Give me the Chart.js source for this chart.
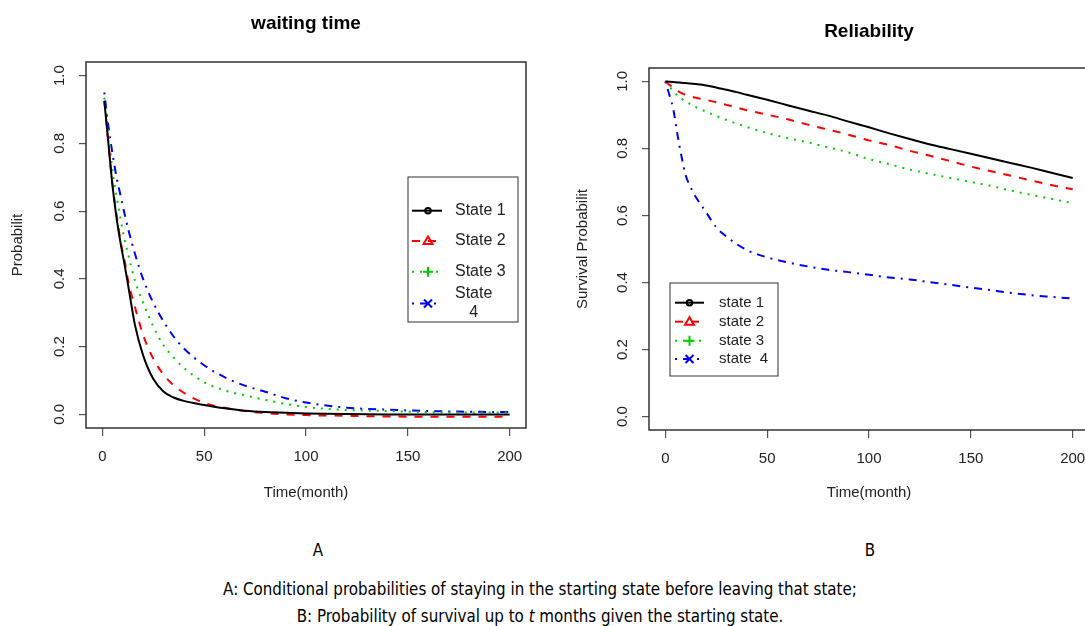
<!DOCTYPE html>
<html lang="en">
<head>
<meta charset="UTF-8">
<title>waiting time / Reliability</title>
<script src="https://cdn.jsdelivr.net/npm/chart.js"></script>
<style>
  html, body { margin: 0; padding: 0; background: #fff; overflow: hidden; }
  body { width: 1085px; height: 626px; position: relative; }
  .box { position: absolute; top: 0; height: 520px; }
  #boxA { left: 0; width: 560px; }
  #boxB { left: 560px; width: 540px; }
  .cap {
    position: absolute; transform: translate(-50%, -50%); white-space: nowrap; color: #000;
    font-family: "Liberation Sans Narrow", "DejaVu Sans Condensed", "Liberation Sans", sans-serif;
    font-size: 16.8px;
  }
</style>
</head>
<body>
<div class="box" id="boxA"><canvas id="waitChart" width="560" height="520"></canvas></div>
<div class="box" id="boxB"><canvas id="survChart" width="540" height="520"></canvas></div>

<div class="cap" style="left:318px; top:550px;">A</div>
<div class="cap" style="left:870px; top:550px;">B</div>
<div class="cap" style="left:540px; top:589px;">A: Conditional probabilities of staying in the starting state before leaving that state;</div>
<div class="cap" style="left:540px; top:616px;">B: Probability of survival up to <i>t</i> months given the starting state.</div>

<script>
// ---- data ----
const xTicks = [0, 50, 100, 150, 200];
const yTicks = [0, 0.2, 0.4, 0.6, 0.8, 1.0];

// A: waiting time
const waitTime = [1, 3, 5, 7, 9, 11, 13, 16, 20, 25, 30, 35, 40, 50, 60, 70, 80, 90, 100, 120, 140, 160, 180, 200];
const waitState1 = [0.925, 0.80, 0.675, 0.58, 0.505, 0.44, 0.37, 0.265, 0.175, 0.105, 0.068, 0.05, 0.04, 0.028, 0.018, 0.011, 0.007, 0.005, 0.003, 0.001, 0.0, 0.0, 0.0, 0.0];
const waitState2 = [0.925, 0.80, 0.68, 0.59, 0.51, 0.452, 0.385, 0.318, 0.235, 0.165, 0.118, 0.086, 0.064, 0.034, 0.02, 0.01, 0.004, 0.0, -0.002, -0.004, -0.006, -0.007, -0.007, -0.007];
const waitState3 = [0.935, 0.83, 0.72, 0.645, 0.575, 0.515, 0.465, 0.395, 0.33, 0.26, 0.205, 0.168, 0.138, 0.095, 0.071, 0.056, 0.043, 0.031, 0.022, 0.013, 0.010, 0.007, 0.006, 0.006];
const waitState4 = [0.95, 0.85, 0.77, 0.70, 0.645, 0.59, 0.54, 0.475, 0.40, 0.33, 0.275, 0.23, 0.195, 0.145, 0.11, 0.085, 0.067, 0.048, 0.035, 0.02, 0.014, 0.01, 0.008, 0.007];
const waitLabels = ['State 1', 'State 2', 'State 3', 'State\n4'];

// B: reliability
const survTime = [0, 2, 4, 6, 8, 10, 12, 15, 20, 25, 30, 35, 40, 50, 60, 70, 80, 90, 100, 110, 120, 130, 140, 150, 160, 170, 180, 190, 200];
const survState1 = [1.0, 0.999, 0.998, 0.997, 0.996, 0.995, 0.994, 0.992, 0.988, 0.982, 0.975, 0.968, 0.96, 0.945, 0.929, 0.913, 0.898, 0.88, 0.863, 0.845, 0.828, 0.812, 0.798, 0.784, 0.77, 0.756, 0.742, 0.727, 0.712];
const survState2 = [1.0, 0.99, 0.98, 0.972, 0.965, 0.96, 0.956, 0.951, 0.945, 0.938, 0.93, 0.922, 0.914, 0.901, 0.887, 0.871, 0.856, 0.841, 0.824, 0.81, 0.793, 0.778, 0.762, 0.746, 0.732, 0.718, 0.704, 0.69, 0.678];
const survState3 = [1.0, 0.985, 0.97, 0.958, 0.948, 0.94, 0.933, 0.923, 0.91, 0.897, 0.885, 0.874, 0.864, 0.846, 0.831, 0.818, 0.803, 0.788, 0.768, 0.753, 0.737, 0.724, 0.712, 0.70, 0.688, 0.674, 0.661, 0.649, 0.637];
const survState4 = [1.0, 0.96, 0.915, 0.84, 0.775, 0.72, 0.69, 0.655, 0.61, 0.565, 0.537, 0.515, 0.497, 0.475, 0.46, 0.448, 0.438, 0.431, 0.423, 0.415, 0.409, 0.401, 0.393, 0.385, 0.377, 0.369, 0.362, 0.357, 0.352];
const survLabels = ['state 1', 'state 2', 'state 3', 'state  4'];

// ---- styles ----
const colors = ['#000000', '#ff0000', '#00cd00', '#0000ff'];
const dashes = [[], [8, 8], [2, 6], [2, 6, 8, 6]];
const markers = ['circle', 'triangle', 'plus', 'cross'];
const FONT = '"Liberation Sans", Arial, sans-serif';

function drawMarker(ctx, kind, x, y, color) {
  ctx.save();
  ctx.strokeStyle = color; ctx.lineWidth = 2; ctx.setLineDash([]);
  ctx.beginPath();
  if (kind === 'circle') {
    ctx.arc(x, y, 2.8, 0, Math.PI * 2);
  } else if (kind === 'triangle') {
    ctx.moveTo(x - 4.5, y + 3); ctx.lineTo(x + 4.5, y + 3); ctx.lineTo(x, y - 4.5); ctx.closePath();
  } else if (kind === 'plus') {
    ctx.moveTo(x - 5, y); ctx.lineTo(x + 5, y); ctx.moveTo(x, y - 5); ctx.lineTo(x, y + 5);
  } else {
    ctx.moveTo(x - 4, y - 4); ctx.lineTo(x + 4, y + 4); ctx.moveTo(x + 4, y - 4); ctx.lineTo(x - 4, y + 4);
  }
  ctx.stroke();
  ctx.restore();
}

// R style box, rotated y labels, bold title and legend
const rFrame = {
  id: 'rFrame',
  afterDraw(chart, args, o) {
    const { ctx, chartArea: a } = chart;
    ctx.save();
    ctx.strokeStyle = '#333'; ctx.lineWidth = 1.5;
    ctx.strokeRect(a.left, a.top, a.right - a.left, a.bottom - a.top);

    const ys = chart.scales.y;
    ctx.fillStyle = '#222'; ctx.font = '15px ' + FONT;
    ctx.textAlign = 'center'; ctx.textBaseline = 'middle';
    ys.ticks.forEach(t => {
      ctx.save();
      ctx.translate(a.left - 26, ys.getPixelForValue(t.value));
      ctx.rotate(-Math.PI / 2);
      ctx.fillText(t.value.toFixed(1), 0, 0);
      ctx.restore();
    });

    ctx.fillStyle = '#000'; ctx.font = 'bold 19px ' + FONT;
    ctx.fillText(o.title, (a.left + a.right) / 2, o.titleY);

    const lg = o.legend;
    ctx.strokeStyle = '#333'; ctx.lineWidth = 1;
    ctx.strokeRect(lg.x, lg.y, lg.w, lg.h);
    ctx.font = lg.size + 'px ' + FONT;
    chart.data.datasets.forEach((ds, i) => {
      const ry = lg.rows[i];
      ctx.strokeStyle = ds.borderColor; ctx.lineWidth = 2;
      ctx.setLineDash(ds.borderDash);
      ctx.beginPath(); ctx.moveTo(lg.lx0, ry); ctx.lineTo(lg.lx1, ry); ctx.stroke();
      ctx.setLineDash([]);
      drawMarker(ctx, markers[i], lg.mx, ry, ds.borderColor);
      ctx.fillStyle = '#222';
      const lines = ds.label.split('\n');
      if (lines.length === 1) {
        ctx.textAlign = 'left';
        ctx.fillText(lines[0], lg.tx, ry);
      } else {
        ctx.textAlign = 'center';
        const cx = lg.tx + ctx.measureText(lines[0]).width / 2;
        lines.forEach((s, k) => ctx.fillText(s, cx, ry + (k - (lines.length - 1) / 2) * 19));
      }
    });
    ctx.restore();
  }
};

function makeChart(id, time, series, labels, o) {
  return new Chart(document.getElementById(id), {
    type: 'line',
    data: {
      datasets: series.map((vals, i) => ({
        label: labels[i],
        data: time.map((t, k) => ({ x: t, y: vals[k] })),
        borderColor: colors[i],
        borderDash: dashes[i],
        borderWidth: 2,
        pointRadius: 0,
        cubicInterpolationMode: 'monotone',
        fill: false
      }))
    },
    options: {
      responsive: false,
      animation: false,
      events: [],
      layout: { padding: o.padding },
      plugins: {
        legend: { display: false },
        tooltip: { enabled: false },
        rFrame: { title: o.title, titleY: o.titleY, legend: o.legend }
      },
      scales: {
        x: {
          type: 'linear', min: -8, max: 208,
          afterBuildTicks: s => { s.ticks = xTicks.map(v => ({ value: v })); },
          afterFit: s => { s.height = 80; },
          border: { display: false },
          grid: { drawOnChartArea: false, drawTicks: true, tickLength: 8, color: '#555', lineWidth: 1.2 },
          ticks: { color: '#222', font: { size: 15, family: FONT }, padding: 12, maxRotation: 0 },
          title: { display: true, text: 'Time(month)', color: '#222', font: { size: 15, family: FONT }, padding: { top: 0, bottom: o.xTitlePad } }
        },
        y: {
          type: 'linear', min: -0.04, max: 1.04,
          afterBuildTicks: s => { s.ticks = yTicks.map(v => ({ value: v })); },
          afterFit: s => { s.width = o.yWidth; },
          border: { display: false },
          grid: { drawOnChartArea: false, drawTicks: true, tickLength: 7, color: '#555', lineWidth: 1.2 },
          ticks: { display: false },
          title: { display: true, text: o.yTitle, color: '#222', font: { size: 15, family: FONT }, padding: { top: o.yTitlePad, bottom: 0 } }
        }
      }
    },
    plugins: [rFrame]
  });
}

makeChart('waitChart', waitTime, [waitState1, waitState2, waitState3, waitState4], waitLabels, {
  padding: { left: 0, top: 62, right: 34, bottom: 12 },
  yWidth: 86, yTitle: 'Probabilit', yTitlePad: 9, xTitlePad: 6,
  title: 'waiting time', titleY: 24,
  legend: { x: 408, y: 177, w: 110, h: 145, rows: [210.7, 241, 271.7, 303.5], lx0: 412, lx1: 442, mx: 428, tx: 455, size: 16 }
});

makeChart('survChart', survTime, [survState1, survState2, survState3, survState4], survLabels, {
  padding: { left: 0, top: 68, right: 11, bottom: 10 },
  yWidth: 89, yTitle: 'Survival Probabilit', yTitlePad: 14, xTitlePad: 8,
  title: 'Reliability', titleY: 32,
  legend: { x: 110, y: 283, w: 108, h: 93, rows: [302.7, 321.7, 340.7, 359], lx0: 115, lx1: 144, mx: 129.5, tx: 159, size: 15 }
});
</script>
</body>
</html>
